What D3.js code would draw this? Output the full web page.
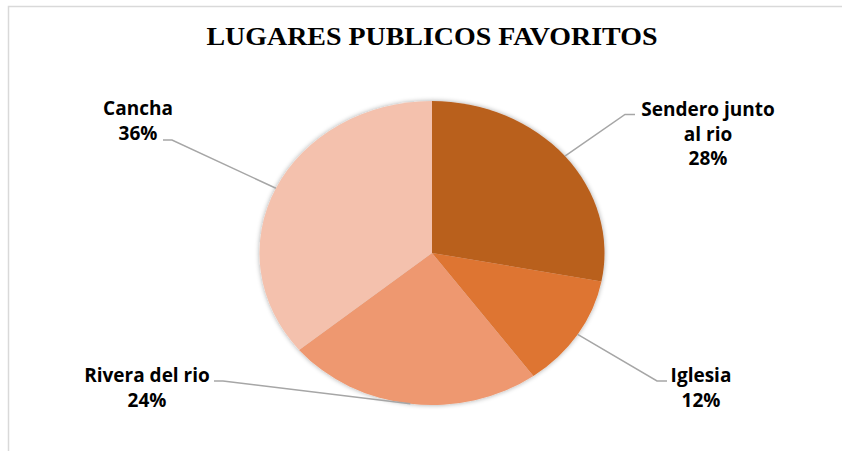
<!DOCTYPE html>
<html><head><meta charset="utf-8">
<script src="https://cdn.jsdelivr.net/npm/d3@7"></script>
<style>html,body{margin:0;padding:0;background:#fff;}svg{display:block;}</style>
</head><body>
<svg id="chart" width="842" height="451"></svg>
<script>
const title = "LUGARES PUBLICOS FAVORITOS";
const categories = ["Sendero junto al rio", "Iglesia", "Rivera del rio", "Cancha"];
const values = [28, 12, 24, 36];
const colors = ["#B9601F", "#DE7430", "#EE9870", "#F4C1AD"];
const labelLines = [["Sendero junto", "al rio", "28%"], ["Iglesia", "12%"], ["Rivera del rio", "24%"], ["Cancha", "36%"]];

const svg = d3.select("#chart");
const W = 842, H = 451;
svg.append("rect").attr("width", W).attr("height", H).attr("fill", "#fff");
// chart frame
svg.append("rect").attr("x", 8.5).attr("y", 6.5).attr("width", 900).attr("height", 500)
  .attr("fill", "none").attr("stroke", "#D9D9D9").attr("stroke-width", 1.5);

svg.append("text").attr("x", 432).attr("y", 44.5).attr("text-anchor", "middle")
  .attr("font-family", "Liberation Serif, Times New Roman, serif").attr("font-weight", "bold")
  .attr("font-size", 26).attr("textLength", 451).attr("lengthAdjust", "spacingAndGlyphs")
  .attr("fill", "#000").text(title);

const cx = 432, cy = 253, ry = 152, rx = 172.5;
const defs = svg.append("defs");
const f = defs.append("filter").attr("id", "sh").attr("x", "-20%").attr("y", "-20%").attr("width", "140%").attr("height", "140%");
f.append("feGaussianBlur").attr("in", "SourceAlpha").attr("stdDeviation", 2.5).attr("result", "b");
f.append("feComponentTransfer").attr("in", "b").attr("result", "o2")
  .append("feFuncA").attr("type", "linear").attr("slope", 0.35);
const m = f.append("feMerge");
m.append("feMergeNode").attr("in", "o2");
m.append("feMergeNode").attr("in", "SourceGraphic");

const pie = d3.pie().sort(null).value(d => d)(values);
const arc = d3.arc().innerRadius(0).outerRadius(ry);
const g = svg.append("g").attr("transform", `translate(${cx},${cy}) scale(${rx / ry},1)`).attr("filter", "url(#sh)");
g.selectAll("path").data(pie).join("path")
  .attr("d", arc).attr("fill", (d, i) => colors[i]);

function edge(a) {
  return [cx + Math.sin(a) * rx, cy - Math.cos(a) * ry];
}
const leaderSpecs = [
  { knee: [625, 114.5], end: [635, 114.5] },
  { knee: [657, 381], end: [667, 381] },
  { knee: [223, 381], end: [214, 381] },
  { knee: [172, 140], end: [163, 140] }
];
pie.forEach((p, i) => {
  const s = leaderSpecs[i];
  const a = (p.startAngle + p.endAngle) / 2;
  const e = edge(a);
  svg.append("polyline")
    .attr("points", [e, s.knee, s.end].map(q => q.join(",")).join(" "))
    .attr("fill", "none").attr("stroke", "#A6A6A6").attr("stroke-width", 1.5);
});

const labelPos = [[708, 116], [701, 382], [147, 382], [138, 115]];
labelLines.forEach((lines, i) => {
  const t = svg.append("text").attr("text-anchor", "middle")
    .attr("font-family", "Open Sans, Noto Sans, sans-serif").attr("font-weight", "bold")
    .attr("font-size", 19).attr("fill", "#000");
  lines.forEach((l, j) => {
    t.append("tspan").attr("x", labelPos[i][0]).attr("y", labelPos[i][1] + j * 24.5).text(l);
  });
});
</script>
</body></html>
